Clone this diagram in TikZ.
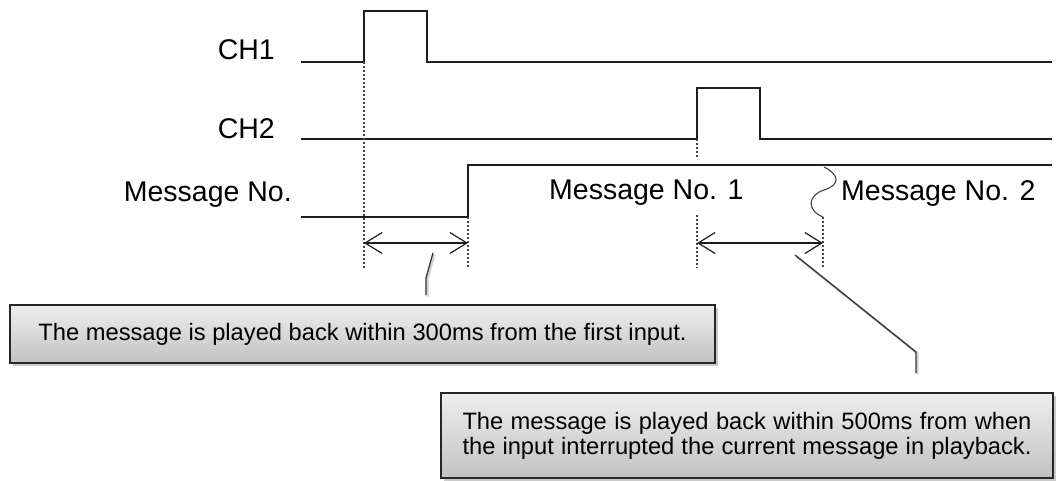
\documentclass[tikz,border=0pt]{standalone}
\usepackage{fontspec}
\setmainfont{Liberation Sans}
\usetikzlibrary{arrows.meta,shadows}
\definecolor{wave}{HTML}{1E1E1E}
\definecolor{guide}{HTML}{444444}
\definecolor{boxtop}{HTML}{EEEEEE}
\definecolor{boxbot}{HTML}{C2C2C2}
\tikzset{
  wavestyle/.style={draw=wave, line width=1.5pt, line join=miter},
  guidestyle/.style={draw=guide, line width=1.1pt, dash pattern=on 2pt off 2pt},
  dimstyle/.style={draw=wave, line width=1.2pt, {Straight Barb[length=17pt,width=21pt,line width=1.2pt]}-{Straight Barb[length=17pt,width=21pt,line width=1.2pt]}},
  leaderstyle/.style={draw=black!80, line width=1.3pt},
  leadershadow/.style={draw=black!18, line width=2.2pt},
  sigtext/.style={font=\fontsize{28.5}{31}\selectfont, inner sep=0pt},
  notebox/.style={draw=black!85, line width=1.3pt, top color=boxtop, bottom color=boxbot,
    drop shadow={shadow xshift=3pt, shadow yshift=-3pt, fill=black!35, opacity=0.6},
    font=\fontsize{23.7}{25}\selectfont, inner sep=0pt, align=center},
}
\begin{document}
\begin{tikzpicture}[x=1pt,y=-1pt]
\useasboundingbox (0,0) rectangle (1057,480);

% waveform corners
\coordinate (c1s) at (301,62);
\coordinate (c1r) at (364,62);
\coordinate (c1rt) at (364,11);
\coordinate (c1ft) at (427,11);
\coordinate (c1f) at (427,62);
\coordinate (c1e) at (1052,62);

\coordinate (c2s) at (301,139);
\coordinate (c2r) at (697,139);
\coordinate (c2rt) at (697,88);
\coordinate (c2ft) at (760,88);
\coordinate (c2f) at (760,139);
\coordinate (c2e) at (1052,139);

\coordinate (ms) at (301,217);
\coordinate (mr) at (468,217);
\coordinate (mrt) at (468,165);
\coordinate (me) at (1052,165);

% labels
\node[sigtext, anchor=base east] (lch1) at (275,59) {CH1};
\node[sigtext, anchor=base east] (lch2) at (275,138) {CH2};
\node[sigtext, anchor=base east] (lmsg) at (292,201) {Message No.};
\node[sigtext, anchor=base west] (lm1) at (549,199) {Message No. 1};
\node[sigtext, anchor=base west] (lm2) at (841,200) {Message No. 2};

% waveforms
\draw[wavestyle] (c1s) -- (c1r) -- (c1rt) -- (c1ft) -- (c1f) -- (c1e);
\draw[wavestyle] (c2s) -- (c2r) -- (c2rt) -- (c2ft) -- (c2f) -- (c2e);
\draw[wavestyle] (ms) -- (mr) -- (mrt) -- (me);

% guide lines
\coordinate (g1b) at (364,268);
\coordinate (g2b) at (468,268);
\coordinate (g3a) at (697,158);
\coordinate (g3m) at (697,215);
\coordinate (g3b) at (697,268);
\coordinate (g4t) at (823,217);
\coordinate (g4b) at (823,268);
\draw[guidestyle] (c1r) -- (g1b);
\draw[guidestyle] (mr) -- (g2b);
\draw[guidestyle] (c2r) -- (g3a);
\draw[guidestyle] (g3m) -- (g3b);
\draw[guidestyle] (g4t) -- (g4b);

% wavy break
\coordinate (wv0) at (824,167);
\coordinate (wv1) at (824,190);
\draw[draw=black!75, line width=1.1pt] (wv0) .. controls (840,175) and (840,185) .. (wv1)
  .. controls (808,195) and (806,210) .. (g4t);

% dimension arrows
\coordinate (a1l) at (364,243);
\coordinate (a1r) at (468,243);
\coordinate (a2l) at (697,243);
\coordinate (a2r) at (823,243);
\draw[dimstyle] (a1l) -- (a1r);
\draw[dimstyle] (a2l) -- (a2r);

% note boxes
\node[notebox, minimum width=705pt, minimum height=58pt] (box1) at (362.5,334)
  {The message is played back within 300ms from the first input.};
\node[notebox, minimum width=612pt, minimum height=85pt] (box2) at (747,435.5)
  {\makebox[569pt][s]{The message is played back within 500ms from when}\\
   \makebox[569pt][s]{the input interrupted the current message in playback.}};

% leaders
\coordinate (l1a) at (433,253);
\coordinate (l1b) at (426,278);
\coordinate (l1c) at (426,295);
\coordinate (l2a) at (795,255);
\coordinate (l2b) at (916,352);
\coordinate (l2c) at (916,373);
\draw[leadershadow, transform canvas={xshift=1.5pt,yshift=-1.5pt}] (l1a) -- (l1b) -- (l1c);
\draw[leadershadow, transform canvas={xshift=1.5pt,yshift=-1.5pt}] (l2a) -- (l2b) -- (l2c);
\draw[leaderstyle] (l1a) -- (l1b) -- (l1c);
\draw[leaderstyle] (l2a) -- (l2b) -- (l2c);
\end{tikzpicture}
\end{document}
